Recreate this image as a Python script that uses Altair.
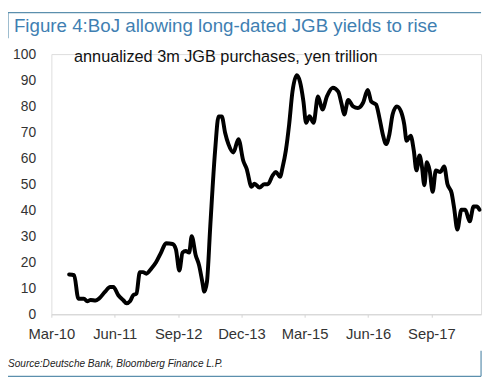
import altair as alt
import pandas as pd

# ---- data ----
dates = [
    "2010-07-07", "2010-08-12", "2010-09-12", "2010-10-22", "2010-11-15", "2010-12-09",
    "2011-01-14", "2011-02-07", "2011-03-24", "2011-04-29", "2011-05-22", "2011-06-27",
    "2011-08-02", "2011-08-25", "2011-09-19", "2011-10-12", "2011-11-05", "2011-11-29",
    "2011-12-22", "2012-01-15", "2012-02-19", "2012-03-25", "2012-04-30", "2012-06-05",
    "2012-07-22", "2012-08-15", "2012-09-09", "2012-10-02", "2012-10-25", "2012-11-19",
    "2012-12-07", "2013-01-05", "2013-01-29", "2013-02-22", "2013-03-08", "2013-03-27",
    "2013-04-20", "2013-05-25", "2013-06-19", "2013-07-12", "2013-08-05", "2013-08-29",
    "2013-10-04", "2013-11-09", "2013-12-14", "2014-01-07", "2014-02-12", "2014-03-05",
    "2014-04-10", "2014-05-15", "2014-06-09", "2014-07-14", "2014-08-07", "2014-09-05",
    "2014-09-24", "2014-10-17", "2014-11-10", "2014-12-04", "2015-01-04", "2015-01-27",
    "2015-02-21", "2015-03-12", "2015-04-05", "2015-05-05", "2015-06-06", "2015-07-08",
    "2015-08-09", "2015-09-21", "2015-10-30", "2015-11-24", "2015-12-12", "2016-01-10",
    "2016-02-14", "2016-03-20", "2016-04-25", "2016-05-30", "2016-06-24", "2016-07-29",
    "2016-08-22", "2016-09-15", "2016-10-09", "2016-11-02", "2016-11-25", "2016-12-26",
    "2017-01-24", "2017-02-17", "2017-03-06", "2017-04-04", "2017-04-27", "2017-05-16",
    "2017-06-07", "2017-06-25", "2017-07-12", "2017-07-30", "2017-08-19", "2017-09-10",
    "2017-10-03", "2017-11-04", "2017-12-02", "2017-12-25", "2018-01-25", "2018-02-12",
    "2018-03-07", "2018-04-05", "2018-05-03", "2018-06-04", "2018-07-02", "2018-07-25",
    "2018-08-14",
]
values = [
    15.3, 15.0, 6.0, 6.0, 5.0, 5.5,
    5.3, 6.0, 8.7, 10.5, 10.5, 7.3,
    5.4, 4.2, 5.0, 7.3, 8.0, 16.2,
    16.2, 15.6, 17.5, 20.0, 23.7, 27.3,
    27.0, 25.0, 16.8, 23.7, 24.3, 23.7,
    30.0, 22.7, 18.9, 12.4, 8.7, 12.4,
    33.8, 62.9, 76.0, 76.0, 69.8, 65.4,
    62.2, 67.3, 59.0, 56.0, 49.0, 50.2,
    48.7, 50.0, 50.0, 53.4, 54.7, 52.8,
    56.6, 62.9, 73.0, 85.6, 91.9, 89.4,
    81.8, 73.6, 76.1, 73.6, 83.7, 78.7,
    83.7, 87.1, 85.6, 80.6, 76.8, 82.4,
    79.9, 79.3, 81.2, 86.2, 81.8, 80.6,
    75.5, 69.2, 65.4, 69.2, 76.8, 79.9,
    78.0, 73.0, 66.7, 68.6, 62.9, 55.3,
    61.0, 56.6, 49.6, 58.4, 55.3, 47.1,
    55.3, 54.7, 56.8, 50.2, 46.5, 40.8,
    32.6, 40.2, 40.2, 35.7, 41.4, 41.4,
    40.2,
]
x_tick_dates = [(2010, 3), (2011, 6), (2012, 9), (2013, 12), (2015, 3), (2016, 6), (2017, 9)]
y_ticks = [0, 10, 20, 30, 40, 50, 60, 70, 80, 90, 100]

title_text = "Figure 4:BoJ allowing long-dated JGB yields to rise"
subtitle_text = "annualized 3m JGB purchases, yen trillion"
source_text = "Source:Deutsche Bank, Bloomberg Finance L.P."

df = pd.DataFrame({"date": dates, "value": values})

FONT = "Liberation Sans"
FRAME = "#5b8fad"
W, H = 436, 264

x_enc = alt.X(
    "date:T",
    title=None,
    scale=alt.Scale(
        type="utc",
        domain=[alt.DateTime(year=2010, month=3, date=1, utc=True),
                alt.DateTime(year=2018, month=8, date=25, utc=True)],
    ),
    axis=alt.Axis(
        values=[alt.DateTime(year=y, month=m, date=1, utc=True) for y, m in x_tick_dates],
        format="%b-%y",
        labelFont=FONT, labelFontSize=15, labelColor="#333333",
        domainColor="#d4d4d4", domainWidth=1,
        tickColor="#d4d4d4", tickSize=3, labelPadding=10,
        grid=False, labelFlush=False, labelOverlap=False,
    ),
)
y_enc = alt.Y(
    "value:Q",
    title=None,
    scale=alt.Scale(domain=[0, 100], nice=False),
    axis=alt.Axis(
        values=y_ticks,
        labelFont=FONT, labelFontSize=14, labelColor="#333333",
        domain=False, ticks=False, grid=False, labelPadding=16,
    ),
)

line = alt.Chart(df).mark_line(
    color="black", strokeWidth=4, interpolate="monotone",
    strokeJoin="round", strokeCap="round",
).encode(x=x_enc, y=y_enc)


def label(text, x, y, **kw):
    return alt.Chart(pd.DataFrame({"t": [text]})).mark_text(
        align="left", baseline="alphabetic", font=FONT, **kw
    ).encode(text="t:N", x=alt.value(x), y=alt.value(y))


def rule(x, x2, y, y2):
    return alt.Chart(pd.DataFrame({"r": [0]})).mark_rule(
        color=FRAME, strokeWidth=1.2
    ).encode(x=alt.value(x), x2=alt.value(x2), y=alt.value(y), y2=alt.value(y2))


title = label(title_text, -38, -22, fontSize=19, color="#3f7fb2")
subtitle = label(subtitle_text, 23, 8, fontSize=16.5, color="#111111")
source = label(source_text, -44, 317, fontSize=10.2, fontStyle="italic", color="#222222")

frame = [
    rule(-44, 436, -42, -42),
    rule(-44, -44, -42, -16),
    rule(-44, 436, 327, 327),
    rule(436, 436, 301, 327),
]

chart = alt.layer(line, title, subtitle, source, *frame).properties(
    width=W, height=H,
    autosize=alt.AutoSizeParams(type="none"),
    padding={"left": 44, "top": 44, "right": 4, "bottom": 70},
).configure_view(stroke=None).configure(background="white")

chart.save("out.html", embed_options={"renderer": "svg", "actions": False})
